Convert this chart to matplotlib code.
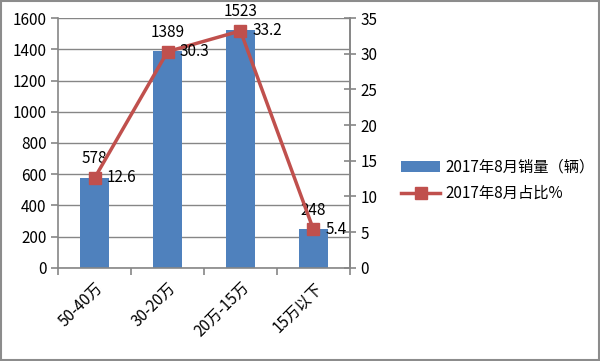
import matplotlib.pyplot as plt
import numpy as np

plt.rcParams['font.family'] = ['Noto Sans CJK SC', 'DejaVu Sans']

categories = ['50-40万', '30-20万', '20万-15万', '15万以下']
sales = [578, 1389, 1523, 248]
share = [12.6, 30.3, 33.2, 5.4]

bar_color = '#4F81BD'
line_color = '#C0504D'
grid_color = '#868686'

fig = plt.figure(figsize=(6, 3.61), dpi=100)
# outer border
fig.patches.append(plt.Rectangle((0.002, 0.003), 0.996, 0.994, transform=fig.transFigure,
                                 fill=False, edgecolor='#8c8c8c', lw=1.5))

ax = fig.add_axes([0.097, 0.258, 0.486, 0.692])
x = np.arange(len(categories))
ax.bar(x, sales, width=0.4, color=bar_color, label='2017年8月销量（辆）', zorder=2)
ax.set_ylim(0, 1600)
ax.set_xlim(-0.5, len(categories) - 0.5)
ax.set_yticks(range(0, 1601, 200))
ax.grid(axis='y', color=grid_color, lw=1, zorder=0)
ax.set_axisbelow(True)
ax.spines['top'].set_visible(False)
for s in ['left', 'bottom', 'right']:
    ax.spines[s].set_color(grid_color)
    ax.spines[s].set_linewidth(1.2)
ax.set_xticks(np.arange(-0.5, len(categories)), minor=False)
ax.set_xticklabels([])
ax.set_xticks(x, minor=True)
ax.set_xticklabels(categories, minor=True, rotation=45, ha='right', rotation_mode='anchor')
ax.tick_params(axis='x', which='minor', length=0, pad=8, labelsize=11)
ax.tick_params(axis='x', which='major', length=5, color=grid_color, width=1.2)
ax.tick_params(axis='y', length=5, color=grid_color, width=1.2, labelsize=11)

for xi, v in zip(x, sales):
    ax.text(xi, v + 65, str(v), ha='center', va='bottom', fontsize=11)

ax2 = ax.twinx()
ax2.plot(x, share, color=line_color, lw=2.5, marker='s', markersize=9,
         label='2017年8月占比%', zorder=3)
ax2.set_ylim(0, 35)
ax2.set_yticks(range(0, 36, 5))
for s in ['top', 'left', 'bottom']:
    ax2.spines[s].set_visible(False)
ax2.spines['right'].set_color(grid_color)
ax2.spines['right'].set_linewidth(1.2)
ax2.tick_params(axis='y', direction='inout', length=8, color=grid_color, width=1.2, labelsize=11)

for xi, v in zip(x, share):
    ax2.text(xi + 0.17, v, str(v), ha='left', va='center', fontsize=11)

h1, l1 = ax.get_legend_handles_labels()
h2, l2 = ax2.get_legend_handles_labels()
fig.legend(h1 + h2, l1 + l2, loc='center left', bbox_to_anchor=(0.645, 0.5),
           frameon=False, fontsize=11, handlelength=2.6, handletextpad=0.3,
           labelspacing=0.6)

plt.savefig('out.png')
